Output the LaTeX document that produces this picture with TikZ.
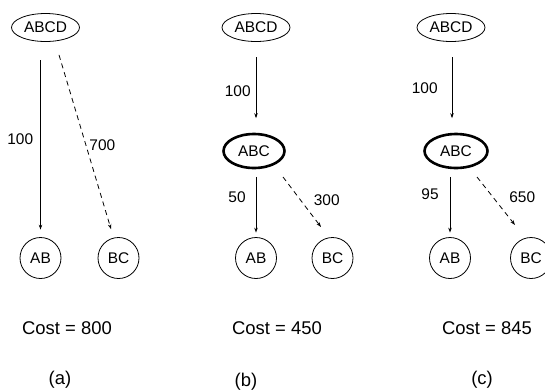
\documentclass[tikz,border=0pt]{standalone}
\usepackage{fontspec}
\setmainfont{Liberation Sans}
\usetikzlibrary{shapes.geometric,arrows.meta,calc,positioning}

\tikzset{
  setnode/.style={draw, ellipse, line width=0.8bp, minimum width=68bp, minimum height=28bp,
    inner sep=0pt, font=\fontsize{15.5}{18}\selectfont},
  chosen/.style={setnode, line width=2.6bp, minimum width=61bp, minimum height=34bp},
  leaf/.style={draw, circle, line width=0.8bp, minimum size=41bp, inner sep=0pt,
    font=\fontsize{15.5}{18}\selectfont},
  wt/.style={inner sep=0pt, font=\fontsize{15.5}{18}\selectfont},
  costtext/.style={inner sep=0pt, font=\fontsize{18.5}{22}\selectfont},
  link/.style={line width=0.8bp, -{Stealth[length=5bp,width=3.5bp]}},
  dlink/.style={link, dash pattern=on 5bp off 4bp},
}

\begin{document}
\begin{tikzpicture}[x=1bp, y=-1bp]
    \useasboundingbox (0,0) rectangle (545,391);

    % (a)
    \node[setnode] (abcdA) at (45.5, 27.5) {ABCD};
    \node[leaf]    (abA)   at (40.5, 258) {AB};
    \node[leaf]    (bcA)   at (118.5, 258) {BC};

    \draw[link, shorten <=18.5bp, shorten >=7.5bp] (abA.north |- abcdA.south) -- node[pos=0.5, left=7bp, wt] (wA1) {100} (abA.north);
    \draw[dlink] ($(abcdA.south)+(13.5,13)$) -- node[pos=0.52, right=3bp, wt] (wA2) {700} ($(bcA.north)+(-7.5,-8)$);

    \node[costtext] (costA) at (67, 328) {Cost = 800};
    \node[costtext] (capA)  at (60, 380) {(a)};

    % (b)
    \node[setnode] (abcdB) at (256, 27.5) {ABCD};
    \node[chosen]  (abcB)  at (254, 151) {ABC};
    \node[leaf]    (abB)   at (256, 258) {AB};
    \node[leaf]    (bcB)   at (332.5, 258) {BC};

    \draw[link, shorten <=15.5bp, shorten >=14.5bp] (abcdB.south) -- node[pos=0.54, left=5bp, wt] (wB1) {100} (abcdB.south |- abcB.north);
    \draw[link, shorten <=7.5bp, shorten >=4.5bp] (abB.north |- abcB.south) -- node[pos=0.41, left=10bp, wt] (wB2) {50} (abB.north);
    \draw[dlink] ($(abcB)+(29,26)$) -- node[pos=0.46, right=13bp, wt] (wB3) {300} ($(bcB)+(-11.5,-31)$);

    \node[costtext] (costB) at (277, 328) {Cost = 450};
    \node[costtext] (capB)  at (246, 382) {(b)};

    % (c)
    \node[setnode] (abcdC) at (451, 27.5) {ABCD};
    \node[chosen, minimum width=63bp] (abcC) at (456, 151) {ABC};
    \node[leaf]    (abC)   at (450, 258) {AB};
    \node[leaf]    (bcC)   at (531, 258) {BC};

    \draw[link, shorten <=15.5bp, shorten >=14.5bp] ($(abcdC.south)+(1,0)$) -- node[pos=0.51, left=14bp, wt] (wC1) {100} ($(abcdC.south |- abcC.north)+(1,0)$);
    \draw[link, shorten <=7.5bp, shorten >=4.5bp] (abC.north |- abcC.south) -- node[pos=0.36, left=11bp, wt] (wC2) {95} (abC.north);
    \draw[dlink] ($(abcC)+(21,26)$) -- node[pos=0.42, right=16bp, wt] (wC3) {650} ($(bcC)+(-16,-33)$);

    \node[costtext] (costC) at (487, 328) {Cost = 845};
    \node[costtext] (capC)  at (482, 380) {(c)};
\end{tikzpicture}
\end{document}
